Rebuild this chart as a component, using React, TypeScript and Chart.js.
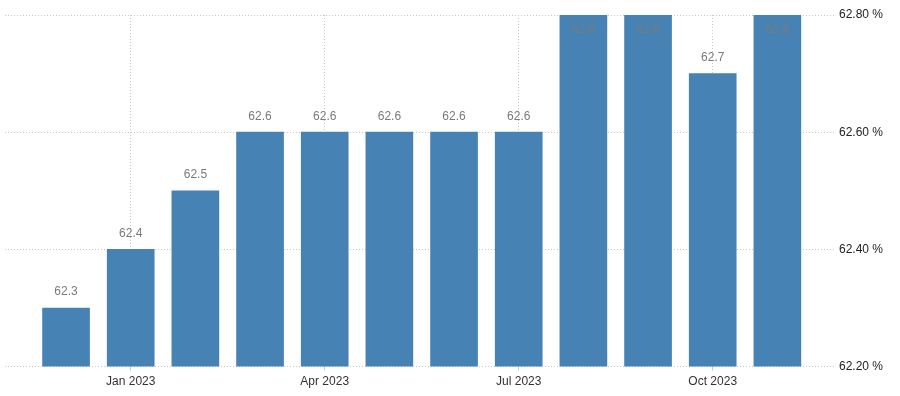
import React, { useEffect, useRef } from "react";
import { Chart, registerables } from "chart.js";

Chart.register(...registerables);

const months = ["Dec 2022", "Jan 2023", "Feb 2023", "Mar 2023", "Apr 2023", "May 2023", "Jun 2023", "Jul 2023", "Aug 2023", "Sep 2023", "Oct 2023", "Nov 2023"];
const values = [62.3, 62.4, 62.5, 62.6, 62.6, 62.6, 62.6, 62.6, 62.8, 62.8, 62.7, 62.8];
const xTickIndices = [1, 4, 7, 10];
const yMin = 62.2;
const yMax = 62.8;
const yStep = 0.2;

const FONT = "'Liberation Sans', Arial, sans-serif";

const valueLabels = {
  id: "valueLabels",
  afterDatasetsDraw(chart: any) {
    const ctx = chart.ctx;
    const meta = chart.getDatasetMeta(0);
    const area = chart.chartArea;
    ctx.save();
    ctx.font = `12px ${FONT}`;
    ctx.fillStyle = "#7a7a7a";
    ctx.textAlign = "center";
    ctx.textBaseline = "middle";
    meta.data.forEach((bar: any, i: number) => {
      let y = bar.y - 16;
      if (y - 7 < area.top) y = bar.y + 15;
      ctx.fillText(values[i].toFixed(1), bar.x, y);
    });
    ctx.restore();
  },
};

export default function App() {
  const ref = useRef<HTMLCanvasElement>(null);
  useEffect(() => {
    if (!ref.current) return;
    const chart = new Chart(ref.current, {
      type: "bar",
      data: {
        datasets: [
          {
            data: values.map((v, i) => ({ x: i, y: v })),
            backgroundColor: "#4682b4",
            barThickness: 47,
          },
        ],
      },
      plugins: [valueLabels],
      options: {
        animation: false,
        responsive: false,
        maintainAspectRatio: false,
        layout: { padding: { left: 5, right: 12, top: 15, bottom: 3 } },
        plugins: { legend: { display: false }, tooltip: { enabled: false } },
        scales: {
          x: {
            type: "linear",
            offset: false,
            min: -0.944,
            max: 11.875,
            afterBuildTicks: (axis: any) => {
              axis.ticks = xTickIndices.map((v) => ({ value: v }));
            },
            ticks: {
              autoSkip: false,
              maxRotation: 0,
              padding: 4,
              color: "#333",
              font: { family: FONT, size: 12 },
              callback: (v: any) => months[Number(v)] ?? "",
            },
            grid: {
              offset: false,
              color: "#c8c8c8",
              tickColor: "#c8c8c8",
              tickLength: 4,
            } as any,
            border: { display: false, dash: [1, 2] } as any,
          },
          y: {
            position: "right",
            min: yMin,
            max: yMax,
            ticks: {
              stepSize: yStep,
              padding: 5,
              color: "#222",
              font: { family: FONT, size: 12 },
              callback: (v: any) => Number(v).toFixed(2) + " %",
            },
            grid: { color: "#c8c8c8", drawTicks: false } as any,
            border: { display: false, dash: [1, 2] } as any,
          },
        },
      },
    });
    return () => chart.destroy();
  }, []);
  return (
    <div style={{ position: "absolute", left: 0, top: 0, width: 900, height: 396, background: "#fff" }}>
      <canvas ref={ref} width={900} height={396} />
    </div>
  );
}
